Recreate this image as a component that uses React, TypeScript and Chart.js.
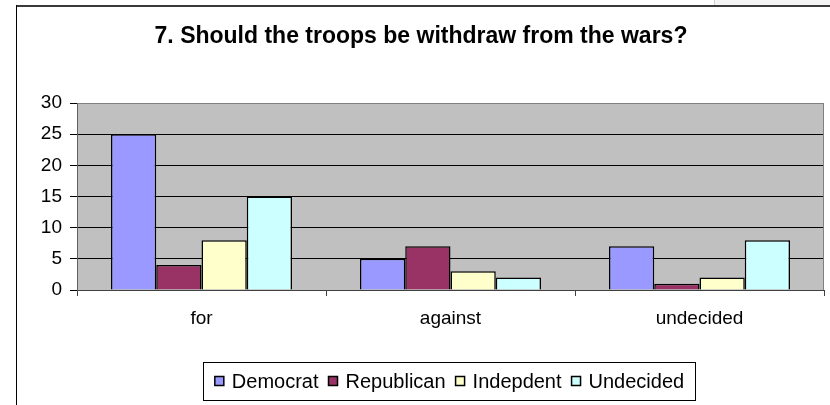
import React, { useEffect, useRef } from "react";
import { Chart, registerables } from "chart.js";

Chart.register(...registerables);

// Survey data: one value per answer category for each party group
const categories = ["for", "against", "undecided"];
const seriesNames = ["Democrat", "Republican", "Indepdent", "Undecided"];
const democrat = [25, 5, 7];
const republican = [4, 7, 1];
const indepdent = [8, 3, 2];
const undecided = [15, 2, 8];
const seriesColors = ["#9999FF", "#993366", "#FFFFCC", "#CCFFFF"];
const titleText = "7. Should the troops be withdraw from the wars?";
const yMin = 0;
const yMax = 30;
const yStep = 5;

const FONT = "'Liberation Sans', Arial, sans-serif";

// Paints the gray plot background, the plot border, the outer frame,
// the title and the boxed legend.
const decorPlugin = {
  id: "decor",
  beforeDraw(chart: any) {
    const { ctx, chartArea } = chart;
    ctx.save();
    ctx.fillStyle = "#FFFFFF";
    ctx.fillRect(0, 0, chart.width, chart.height);
    // faint tab at the top right corner
    ctx.fillStyle = "#F4F4F4";
    ctx.fillRect(714, 0, chart.width - 714, 6);
    ctx.strokeStyle = "#D0D0D0";
    ctx.lineWidth = 1;
    ctx.beginPath();
    ctx.moveTo(714.5, 0);
    ctx.lineTo(714.5, 6);
    ctx.stroke();
    // plot area fill
    ctx.fillStyle = "#C0C0C0";
    ctx.fillRect(
      chartArea.left,
      chartArea.top,
      chartArea.right - chartArea.left,
      chartArea.bottom - chartArea.top
    );
    ctx.restore();
  },
  beforeDatasetsDraw(chart: any) {
    const { ctx, chartArea } = chart;
    ctx.save();
    ctx.strokeStyle = "#808080";
    ctx.lineWidth = 1;
    ctx.beginPath();
    ctx.moveTo(Math.round(chartArea.left) + 0.5, Math.round(chartArea.top) + 0.5);
    ctx.lineTo(Math.round(chartArea.right) - 0.5, Math.round(chartArea.top) + 0.5);
    ctx.lineTo(Math.round(chartArea.right) - 0.5, Math.round(chartArea.bottom));
    ctx.stroke();
    ctx.restore();
  },
  afterDraw(chart: any) {
    const { ctx } = chart;
    ctx.save();
    // outer chart frame
    ctx.strokeStyle = "#3A3A3A";
    ctx.lineWidth = 2;
    ctx.beginPath();
    ctx.moveTo(16, 6);
    ctx.lineTo(chart.width, 6);
    ctx.stroke();
    ctx.strokeStyle = "#000000";
    ctx.lineWidth = 1;
    ctx.beginPath();
    ctx.moveTo(16.5, 5);
    ctx.lineTo(16.5, chart.height);
    ctx.stroke();

    // title
    ctx.fillStyle = "#000000";
    ctx.font = `bold 23px ${FONT}`;
    ctx.textAlign = "center";
    ctx.textBaseline = "middle";
    ctx.fillText(titleText, 421, 37);

    // legend box
    const boxL = 203, boxR = 696, boxT = 362, boxB = 401;
    ctx.fillStyle = "#FFFFFF";
    ctx.fillRect(boxL, boxT, boxR - boxL, boxB - boxT);
    ctx.strokeStyle = "#000000";
    ctx.lineWidth = 1;
    ctx.strokeRect(boxL + 0.5, boxT + 0.5, boxR - boxL - 1, boxB - boxT - 1);

    ctx.font = `20px ${FONT}`;
    ctx.textAlign = "left";
    const marker = 9;
    const gapAfterMarker = 8;
    const gapBetween = 10;
    const datasets = chart.data.datasets;
    const widths = datasets.map((d: any) => ctx.measureText(d.label).width);
    const total =
      widths.reduce((a: number, w: number) => a + w, 0) +
      datasets.length * (marker + gapAfterMarker) +
      (datasets.length - 1) * gapBetween;
    let x = (boxL + boxR) / 2 - total / 2;
    const cy = 381;
    datasets.forEach((d: any, i: number) => {
      ctx.fillStyle = d.backgroundColor;
      ctx.fillRect(x, cy - marker / 2, marker, marker);
      ctx.strokeStyle = "#000000";
      ctx.lineWidth = 1.5;
      ctx.strokeRect(x, cy - marker / 2, marker, marker);
      x += marker + gapAfterMarker;
      ctx.fillStyle = "#000000";
      ctx.fillText(d.label, x, cy + 1);
      x += widths[i] + gapBetween;
    });
    ctx.restore();
  },
};

export default function App() {
  const canvasRef = useRef<HTMLCanvasElement | null>(null);

  useEffect(() => {
    if (!canvasRef.current) return;
    const values = [democrat, republican, indepdent, undecided];
    const chart = new Chart(canvasRef.current, {
      type: "bar",
      data: {
        labels: categories,
        datasets: seriesNames.map((name, i) => ({
          label: name,
          data: values[i],
          backgroundColor: seriesColors[i],
          borderColor: "#000000",
          borderWidth: 1.5,
          barPercentage: 1,
          categoryPercentage: 0.727,
        })),
      },
      options: {
        responsive: false,
        animation: false,
        devicePixelRatio: 1,
        layout: { padding: { left: 16, right: 6, top: 103, bottom: 0 } },
        plugins: {
          legend: { display: false },
          title: { display: false },
          tooltip: { enabled: false },
        },
        scales: {
          x: {
            afterFit(scale: any) {
              scale.height = 115;
            },
            grid: {
              offset: true,
              drawOnChartArea: false,
              drawTicks: true,
              tickLength: 6,
              tickColor: "#404040",
              color: "#404040",
            },
            border: { display: true, color: "#404040", width: 1 },
            ticks: {
              color: "#000000",
              padding: 11,
              font: { family: FONT, size: 19 },
              maxRotation: 0,
            },
          },
          y: {
            min: yMin,
            max: yMax,
            afterFit(scale: any) {
              scale.width = 61;
            },
            grid: {
              color: (ctx: any) =>
                ctx.tick && ctx.tick.value === yMax ? "#808080" : "#000000",
              tickColor: "#000000",
              tickLength: 7,
              lineWidth: 1,
            },
            border: { display: true, color: "#606060", width: 1 },
            ticks: {
              stepSize: yStep,
              color: "#000000",
              padding: 8,
              font: { family: FONT, size: 19 },
            },
          },
        },
      },
      plugins: [decorPlugin],
    });
    return () => chart.destroy();
  }, []);

  return (
    <div style={{ position: "absolute", left: 0, top: 0, width: 830, height: 405 }}>
      <canvas ref={canvasRef} width={830} height={405} style={{ display: "block" }} />
    </div>
  );
}
